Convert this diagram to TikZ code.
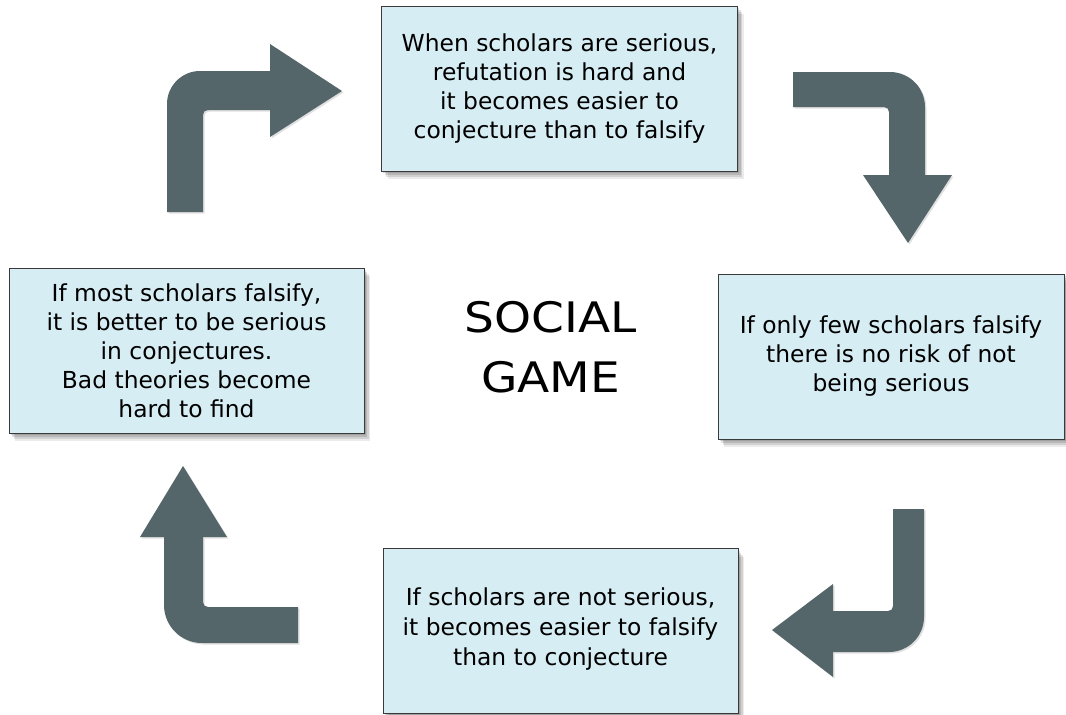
\documentclass[tikz,border=0pt]{standalone}
\usepackage{fontspec}
\setmainfont{DejaVu Sans}
\newfontfamily\titlefont[FakeStretch=1.12]{DejaVu Sans}
\definecolor{boxfill}{HTML}{D7EDF4}
\definecolor{arrowc}{HTML}{55666B}
\definecolor{boxline}{HTML}{3A3A3A}
\begin{document}
\begin{tikzpicture}[x=1pt,y=-1pt,
  box/.style={draw=boxline, line width=1pt, fill=boxfill, inner sep=0pt,
    align=center, font=\fontsize{23.4}{29}\selectfont,
    preaction={fill=black,opacity=0.13,transform canvas={shift={(1.5pt,-2pt)}}},
    preaction={fill=black,opacity=0.12,transform canvas={shift={(3pt,-4pt)}}},
    preaction={fill=black,opacity=0.11,transform canvas={shift={(4.5pt,-6pt)}}},
    preaction={fill=black,opacity=0.08,transform canvas={shift={(6pt,-8pt)}}}},
  barrow/.style={fill=arrowc,
    preaction={fill=black,opacity=0.12,transform canvas={shift={(1.5pt,-1.5pt)}}}},
  title/.style={align=center, font=\titlefont\fontsize{42}{60}\selectfont, inner sep=0pt}
]
\useasboundingbox (0,0) rectangle (1066,715);

% boxes
\node[box, minimum width=356pt, minimum height=165pt] (top) at (559.5,88.5)
  {When scholars are serious,\\refutation is hard and\\it becomes easier to\\conjecture than to falsify};
\node[box, minimum width=346pt, minimum height=165pt] (right) at (891,356.5)
  {If only few scholars falsify\\there is no risk of not\\being serious};
\node[box, minimum width=355pt, minimum height=165pt, font=\fontsize{23.4}{30}\selectfont] (bottom) at (560.5,631)
  {If scholars are not serious,\\it becomes easier to falsify\\than to conjecture\\[-22pt]};
\node[box, minimum width=355pt, minimum height=165pt] (left) at (186.5,350.5)
  {If most scholars falsify,\\it is better to be serious\\in conjectures.\\Bad theories become\\hard to find};

\node[title] (center) at (550.5,347.5) {SOCIAL\\GAME};

% arrows
\fill[barrow] (167,212) -- (167,104) .. controls (167,85.8) and (181.8,71) .. (200,71)
  -- (270,71) -- (270,44) -- (342,91) -- (270,137) -- (270,110) -- (208,110)
  .. controls (205,110) and (203,112) .. (203,115) -- (203,212) -- cycle;

\fill[barrow] (793,72) -- (890,72) .. controls (909.3,72) and (925,87.7) .. (925,107)
  -- (925,175) -- (952,175) -- (908,243) -- (863,175) -- (889,175) -- (889,112)
  .. controls (889,109) and (887,107) .. (884,107) -- (793,107) -- cycle;

\fill[barrow] (893,509) -- (924,509) -- (924,617) .. controls (924,636.3) and (908.3,652) .. (889,652)
  -- (833,652) -- (833,677) -- (772,630) -- (833,584) -- (833,611) -- (888,611)
  .. controls (891,611) and (893,609) .. (893,606) -- cycle;

\fill[barrow] (298,607) -- (208,607) .. controls (205,607) and (203,605) .. (203,602)
  -- (203,537) -- (227,537) -- (183,466) -- (140,537) -- (164,537) -- (164,605)
  .. controls (164,626) and (181,643) .. (202,643) -- (298,643) -- cycle;
\end{tikzpicture}
\end{document}
